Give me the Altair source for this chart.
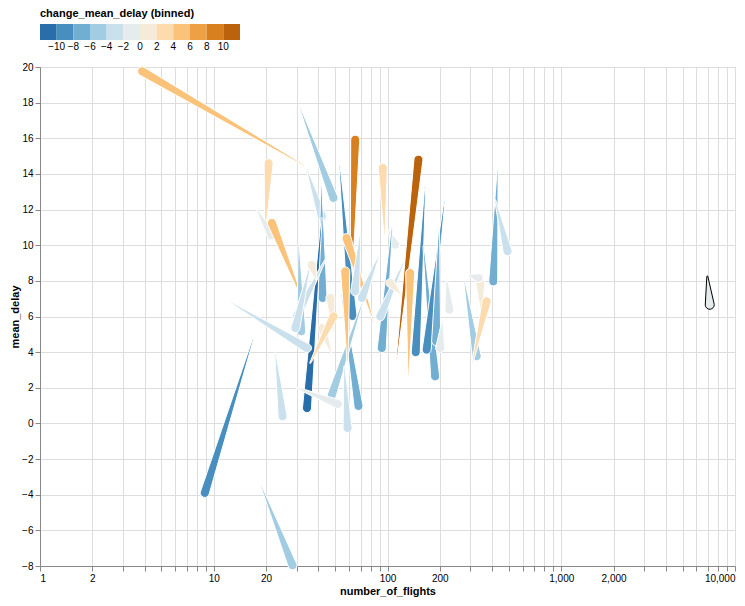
import altair as alt
import pandas as pd

# route ids, values before / after
route_ids = list(range(1, 50))
flights_before = [32.9, 19.8, 17.7, 32.9, 31.5, 34.4, 61.3, 96.1, 113.1, 164.7,
                  161, 212.6, 198, 219, 207, 132, 101, 106, 123.6, 277,
                  347, 292, 308, 430, 416, 6930, 41.6, 41.8, 53.0, 54.4,
                  71.8, 12.7, 16.8, 22.6, 29.5, 56.4, 18.8, 58.9, 83.2, 69.7,
                  88.8, 43.9, 30.8, 35.9, 48.9, 47.6, 35.9, 39.0, 119]
delay_before = [14.5, 10.9, 12.0, 6.8, 17.66, 14.24, 7.0, 10.59, 3.67, 13.25,
                9.94, 12.46, 10.93, 8.16, 5.75, 2.73, 10.85, 11.0, 9.0, 7.97,
                6.2, 8.33, 3.4, 14.18, 12.55, 8.25, 13.3, 11.53, 14.43, 7.2,
                6.8, 6.76, 4.7, 3.95, 2.03, 3.2, -3.53, 3.5, 5.73, 10.68,
                9.38, 9.19, 10.03, 8.91, 5.07, 3.95, 3.39, 8.05, 7.26]
flights_after = [3.87, 20.7, 21.5, 21.6, 48.9, 41.9, 65.2, 94.0, 150.7, 145.4,
                 188, 168, 190.5, 227, 201, 135, 110.8, 92.7, 90.8, 326,
                 342, 334, 372, 406, 491, 7155, 42.3, 34.4, 62.9, 68.1,
                 47.9, 34.4, 8.88, 24.9, 51.8, 58.9, 28.4, 57.1, 58.1, 65.2,
                 71.2, 30.1, 31.9, 29.5, 46.9, 41.9, 48.9, 36.6, 104]
delay_after = [19.76, 14.6, 10.55, 11.25, 12.65, 11.62, 15.92, 14.33, 14.8, 4.0,
               2.64, 4.14, 4.62, 6.38, 4.23, 8.44, 10.03, 4.23, 6.0, 3.77,
               7.88, 8.16, 6.85, 7.97, 9.66, 6.66, 7.04, 0.86, 6.03, 0.98,
               1.61, 4.23, -3.9, 0.4, 1.09, -0.26, -7.96, 8.53, 10.4, 7.41,
               7.04, 6.03, 5.17, 5.35, 7.04, 5.35, 6.01, 8.89, 7.88]
highlight_id = 26

rows = []
for i, fb, db, fa, da in zip(route_ids, flights_before, delay_before, flights_after, delay_after):
    ch = round(da - db, 2)
    rows.append({"id": i, "year": 0, "number_of_flights": fb, "mean_delay": db,
                 "change_mean_delay": ch, "highlight": i == highlight_id})
    rows.append({"id": i, "year": 1, "number_of_flights": fa, "mean_delay": da,
                 "change_mean_delay": ch, "highlight": i == highlight_id})
df = pd.DataFrame(rows)

base = alt.Chart(df).encode(
    x=alt.X("number_of_flights:Q", title="number_of_flights",
            scale=alt.Scale(type="log", domain=[1, 10000]),
            axis=alt.Axis(format=",", titlePadding=2)),
    y=alt.Y("mean_delay:Q", title="mean_delay", scale=alt.Scale(domain=[-8, 20]),
            axis=alt.Axis(titlePadding=1)),
    color=alt.Color("change_mean_delay:Q",
                    bin=alt.Bin(extent=[-12, 12], step=2),
                    scale=alt.Scale(scheme="blueorange"),
                    legend=alt.Legend(orient="top", direction="horizontal",
                                      offset=12)),
    size=alt.Size("year:Q", scale=alt.Scale(domain=[0, 1], range=[1, 9]), legend=None),
    detail="id:N",
    order="year:Q",
)

trails = base.mark_trail(stroke="white", strokeWidth=1).transform_filter("!datum.highlight")
hl = base.mark_trail(stroke="black", strokeWidth=1).transform_filter("datum.highlight")

chart = alt.layer(trails, hl).properties(
    width=695, height=499,
    padding={"left": 1, "top": 0, "right": 0, "bottom": 4},
)
chart.save("out.html", embed_options={"renderer": "svg", "actions": False})
